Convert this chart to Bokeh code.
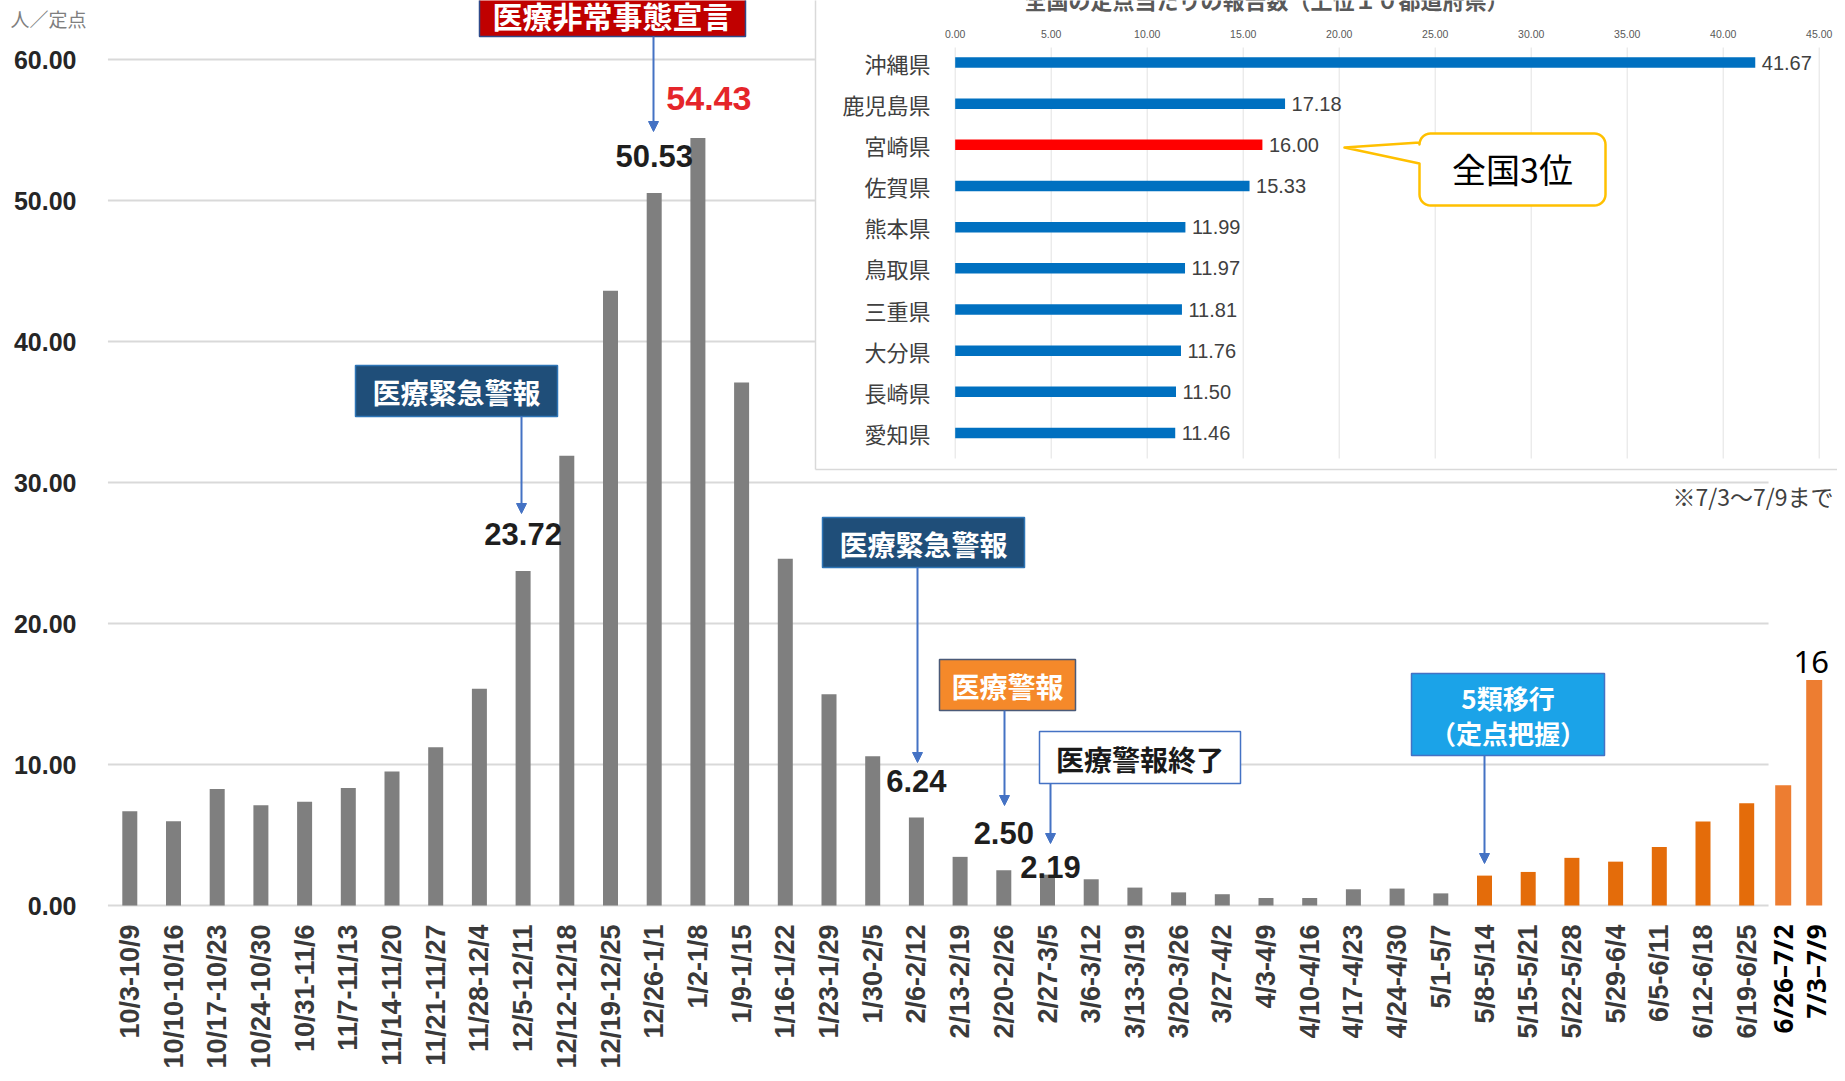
import math
from bokeh.plotting import figure
from bokeh.models import Range1d, Arrow, NormalHead
from bokeh.core.properties import value
from bokeh.embed import file_html
from bokeh.resources import INLINE

# ---------------- data ----------------
weeks = ["10/3-10/9", "10/10-10/16", "10/17-10/23", "10/24-10/30", "10/31-11/6",
         "11/7-11/13", "11/14-11/20", "11/21-11/27", "11/28-12/4", "12/5-12/11",
         "12/12-12/18", "12/19-12/25", "12/26-1/1", "1/2-1/8", "1/9-1/15",
         "1/16-1/22", "1/23-1/29", "1/30-2/5", "2/6-2/12", "2/13-2/19",
         "2/20-2/26", "2/27-3/5", "3/6-3/12", "3/13-3/19", "3/20-3/26",
         "3/27-4/2", "4/3-4/9", "4/10-4/16", "4/17-4/23", "4/24-4/30",
         "5/1-5/7", "5/8-5/14", "5/15-5/21", "5/22-5/28", "5/29-6/4",
         "6/5-6/11", "6/12-6/18", "6/19-6/25"]
cases = [6.68, 5.97, 8.27, 7.11, 7.35, 8.34, 9.50, 11.22, 15.38, 23.72,
         31.9, 43.6, 50.53, 54.43, 37.1, 24.6, 14.99, 10.59, 6.24, 3.45,
         2.50, 2.19, 1.86, 1.27, 0.93, 0.80, 0.53, 0.53, 1.15, 1.20,
         0.86, 2.12, 2.38, 3.38, 3.11, 4.15, 5.96, 7.26]
latest_weeks = ["6/26–7/2", "7/3–7/9"]
latest_cases = [8.53, 16.0]
shift_week = "5/8-5/14"          # 5類移行（定点把握）
y_ticks = [0, 10, 20, 30, 40, 50, 60]
labelled_weeks = ["12/5-12/11", "12/26-1/1", "2/6-2/12", "2/20-2/26", "2/27-3/5"]
peak_week = "1/2-1/8"

prefs = ["沖縄県", "鹿児島県", "宮崎県", "佐賀県", "熊本県",
         "鳥取県", "三重県", "大分県", "長崎県", "愛知県"]
pref_values = [41.67, 17.18, 16.00, 15.33, 11.99, 11.97, 11.81, 11.76, 11.50, 11.46]
highlight_pref = "宮崎県"
pref_ticks = [0, 5, 10, 15, 20, 25, 30, 35, 40, 45]

# ---------------- layout ----------------
W, H = 1837, 1073
X0, DX = 129.3, 43.7      # px of first week, px per week
Y0, DY = 905.0, 14.1      # px of value 0, px per unit
IX0, IDX = 954.7, 19.2    # inset: px of 0, px per unit
IY0, IDY = 62.0, 41.17    # inset: px of first row, px per row
JP = "Noto Sans CJK JP"
NUM = "Liberation Sans"

p = figure(width=W, height=H,
           x_range=Range1d(-X0 / DX, (W - X0) / DX),
           y_range=Range1d((Y0 - H) / DY, Y0 / DY),
           x_axis_location=None, y_axis_location=None,
           tools="", toolbar_location=None, output_backend="svg",
           min_border=0, outline_line_color=None,
           background_fill_color="white", border_fill_color="white")
for g in p.grid:
    g.visible = False
p.extra_x_ranges = {"px": Range1d(0, W), "ix": Range1d(-IX0 / IDX, (W - IX0) / IDX)}
p.extra_y_ranges = {"px": Range1d(H, 0), "iy": Range1d((H - IY0) / IDY, -IY0 / IDY)}


def txt(x, y, s, size, color, xr="default", yr="default", bold=False, font=JP,
        align="center", baseline="middle", angle=0.0):
    xs = x if isinstance(x, list) else [x]
    ys = y if isinstance(y, list) else [y]
    ss = s if isinstance(s, list) else [s]
    p.text(x=xs, y=ys, text=ss, x_range_name=xr, y_range_name=yr,
           text_font=value(font), text_font_size=f"{size}px",
           text_font_style="bold" if bold else "normal", text_color=color,
           text_align=align, text_baseline=baseline, angle=angle)


n = len(weeks)
idx = list(range(n))
shift_i = weeks.index(shift_week)

# gridlines
p.segment(x0=[-0.5] * len(y_ticks), x1=[n - 0.5] * len(y_ticks), y0=y_ticks, y1=y_ticks,
          line_color="#D9D9D9", line_width=2)

# bars
colors = ["#7F7F7F" if i < shift_i else "#E46C0A" for i in idx]
p.vbar(x=idx, top=cases, bottom=0, width=15 / DX, fill_color=colors, line_color=None)
latest_x = [(1782.7 - X0) / DX, (1813.7 - X0) / DX]
p.vbar(x=latest_x, top=latest_cases, bottom=0, width=16 / DX, fill_color="#ED7D31", line_color=None)

# week labels
txt(idx, [924] * n, weeks, 27, "#3A3A3A", yr="px", bold=True, font=NUM,
    align="right", angle=math.pi / 2)
txt([1782, 1815], [924, 924], latest_weeks, 26, "black", xr="px", yr="px", bold=True,
    font="Noto Sans", align="right", angle=math.pi / 2)

# y labels
txt([76] * len(y_ticks), y_ticks, ["%.2f" % t for t in y_ticks], 25, "#262626",
    xr="px", bold=True, font=NUM, align="right")
txt(10, 18, "人／定点", 19, "#7F7F7F", xr="px", yr="px", align="left")

# value labels
offsets = {"2/27-3/5": (3, 8)}
for w in labelled_weeks:
    i = weeks.index(w)
    ox, oy = offsets.get(w, (0, 37))
    txt(i + ox / DX, cases[i] + oy / DY, "%.2f" % cases[i], 31, "#1E1E1E", bold=True, font=NUM)
pi_ = weeks.index(peak_week)
txt(pi_ + 11 / DX, cases[pi_] + 40 / DY, "%.2f" % cases[pi_], 34, "#E5252A", bold=True, font=NUM)
txt(latest_x[1] - 3 / DX, latest_cases[1] + 18 / DY, "%g" % latest_cases[1], 31, "black",
    font="Noto Sans")

# ---------------- inset ----------------
p.quad(left=[815], right=[W + 5], top=[-5], bottom=[469], x_range_name="px", y_range_name="px",
       fill_color="white", line_color=None)
p.segment(x0=[815, 815], y0=[-5, 469], x1=[815, W + 5], y1=[469, 469],
          x_range_name="px", y_range_name="px", line_color="#D9D9D9", line_width=1.5)
rows = list(range(len(prefs)))
p.segment(x0=pref_ticks, x1=pref_ticks, y0=[-0.364] * len(pref_ticks), y1=[9.62] * len(pref_ticks),
          x_range_name="ix", y_range_name="iy", line_color="#E3E3E3", line_width=1)
txt(pref_ticks, [-0.7] * len(pref_ticks), ["%.2f" % t for t in pref_ticks], 10.5, "#595959",
    xr="ix", yr="iy", font=NUM)
pcolors = ["#FF0000" if pr == highlight_pref else "#0070C0" for pr in prefs]
p.hbar(y=rows, left=0, right=pref_values, height=10.5 / IDY, fill_color=pcolors, line_color=None,
       x_range_name="ix", y_range_name="iy")
txt([930] * len(prefs), rows, prefs, 22, "#404040", xr="px", yr="iy", align="right")
txt([v + 6.5 / IDX for v in pref_values], rows, ["%.2f" % v for v in pref_values], 20, "#404040",
    xr="ix", yr="iy", font=NUM, align="left")
txt(1266, -2, "全国の定点当たりの報告数（上位１０都道府県）", 22, "#595959", xr="px", yr="px", bold=True)

# callout 全国3位
def callout(x1, y1, x2, y2, r, tip, ty1, ty2):
    xs, ys = [], []
    def arc(cx, cy, a0, a1):
        for k in range(9):
            a = math.radians(a0 + (a1 - a0) * k / 8)
            xs.append(cx + r * math.cos(a))
            ys.append(cy + r * math.sin(a))
    arc(x1 + r, y1 + r, 180, 270)
    arc(x2 - r, y1 + r, 270, 360)
    arc(x2 - r, y2 - r, 0, 90)
    arc(x1 + r, y2 - r, 90, 180)
    xs += [x1, tip[0], x1]
    ys += [ty2, tip[1], ty1]
    return xs, ys

cx, cy = callout(1419, 133, 1605, 205, 11, (1344, 147), 142, 163)
p.patch(cx, cy, x_range_name="px", y_range_name="px", fill_color="white",
        line_color="#FFC000", line_width=2.5, line_join="round")
txt(1512, 168, "全国3位", 34, "black", xr="px", yr="px")
txt(1833, 495, "※7/3～7/9まで", 23, "#404040", xr="px", yr="px", align="right")

# ---------------- event boxes ----------------
ARROW = "#4472C4"
boxes = [
    (["医療非常事態宣言"], (479, 745, -10, 36), "#C00000", "#2F4A8A", "white", (653, 131), 30),
    (["医療緊急警報"], (355, 557, 365, 416), "#1F4E79", "#2E75B6", "white", (521, 513), 28),
    (["医療緊急警報"], (822, 1024, 517, 567), "#1F4E79", "#2E75B6", "white", (917, 762), 28),
    (["医療警報"], (939, 1075, 659, 710), "#F5892A", "#4A5A78", "white", (1004, 805), 28),
    (["医療警報終了"], (1039, 1240, 731, 783), "white", "#4472C4", "#1A1A1A", (1050, 843), 28),
    (["5類移行", "（定点把握）"], (1411, 1604, 673, 755), "#1BA3E8", "#4472C4", "white", (1484, 863), 26),
]
for lines, (bx1, bx2, by1, by2), fill, line, tc, (ax, ay), fs in boxes:
    p.quad(left=[bx1], right=[bx2], top=[by1], bottom=[by2], x_range_name="px", y_range_name="px",
           fill_color=fill, line_color=line, line_width=1.5)
    midx = (bx1 + bx2) / 2
    if len(lines) == 1:
        txt(midx, (by1 + by2) / 2 + 1, lines[0], fs, tc, xr="px", yr="px", bold=True)
    else:
        txt(midx, by1 + 24, lines[0], fs, tc, xr="px", yr="px", bold=True)
        txt(midx, by1 + 59, lines[1], fs, tc, xr="px", yr="px", bold=True)
    p.add_layout(Arrow(end=NormalHead(size=10, fill_color=ARROW, line_color=ARROW, line_width=1),
                       x_start=ax, y_start=by2, x_end=ax, y_end=ay,
                       line_color=ARROW, line_width=2, x_range_name="px", y_range_name="px"))

open("out.html", "w").write(file_html(p, INLINE))
